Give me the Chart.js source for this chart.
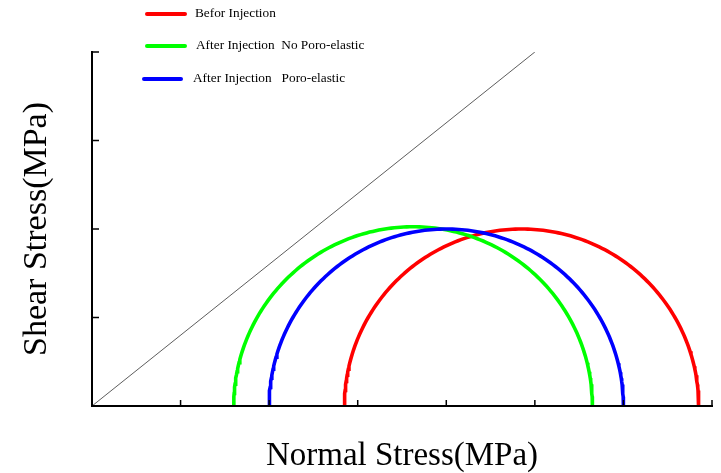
<!DOCTYPE html>
<html>
<head>
<meta charset="utf-8">
<script src="https://cdn.jsdelivr.net/npm/chart.js@4/dist/chart.umd.min.js"></script>
<style>
  html, body { margin: 0; padding: 0; background: #ffffff; }
  #wrap { width: 721px; height: 473px; position: relative; }
</style>
</head>
<body>
<div id="wrap"><canvas id="c" width="721" height="473"></canvas></div>
<script>
// ---- Data ----
const seriesNames = ['Befor Injection', 'After Injection  No Poro-elastic', 'After Injection   Poro-elastic'];
const sigma3 = [2.85, 1.60, 2.00];   // minimum principal stress (left end of each Mohr circle)
const sigma1 = [6.85, 5.65, 6.00];   // maximum principal stress (right end of each Mohr circle)
const seriesColors = ['#ff0000', '#00ff00', '#0000ff'];
const failureX = [0, 5];
const failureY = [0, 4];
const xTicks = [0, 1, 2, 3, 4, 5, 6, 7];
const yTicks = [0, 1, 2, 3, 4];
const xTitle = 'Normal Stress(MPa)';
const yTitle = 'Shear Stress(MPa)';

// Mohr semicircle from principal stresses
function mohr(s3, s1) {
  const c = (s1 + s3) / 2, r = (s1 - s3) / 2, pts = [];
  for (let a = 180; a >= 0; a -= 1) {
    const t = a * Math.PI / 180;
    pts.push({ x: c + r * Math.cos(t), y: r * Math.sin(t) });
  }
  return pts;
}

const datasets = seriesNames.map((name, i) => ({
  label: name,
  data: mohr(sigma3[i], sigma1[i]),
  borderColor: seriesColors[i],
  backgroundColor: seriesColors[i],
  borderWidth: 3.6,
  pointRadius: 0,
  showLine: true,
  tension: 0,
  order: 2 - i
}));
datasets.push({
  label: 'failure',
  data: failureX.map((x, i) => ({ x: x, y: failureY[i] })),
  borderColor: '#333333',
  borderWidth: 0.8,
  pointRadius: 0,
  showLine: true,
  order: 5
});

const axesPlugin = {
  id: 'axesPlugin',
  afterDatasetsDraw(chart) {
    const ctx = chart.ctx, xs = chart.scales.x, ys = chart.scales.y;
    const x0 = xs.getPixelForValue(xs.min), x1 = xs.getPixelForValue(xs.max);
    const y0 = ys.getPixelForValue(ys.min), y1 = ys.getPixelForValue(ys.max);
    ctx.save();
    ctx.strokeStyle = '#000';
    ctx.lineWidth = 2;
    ctx.lineCap = 'square';
    ctx.beginPath();
    ctx.moveTo(x0, y1); ctx.lineTo(x0, y0); ctx.lineTo(x1, y0);
    ctx.stroke();
    ctx.lineWidth = 1.5;
    ctx.lineCap = 'butt';
    ctx.beginPath();
    xTicks.forEach(v => { if (v === xs.min) return; const p = xs.getPixelForValue(v); ctx.moveTo(p, y0); ctx.lineTo(p, y0 - 6); });
    yTicks.forEach(v => { if (v === ys.min) return; const p = ys.getPixelForValue(v); ctx.moveTo(x0, p); ctx.lineTo(x0 + 7, p); });
    ctx.stroke();
    ctx.restore();
  }
};

const legendPlugin = {
  id: 'legendPlugin',
  afterDraw(chart) {
    const ctx = chart.ctx;
    const items = [
      { lx: 147, lw: 38, y: 14, tx: 195 },
      { lx: 147, lw: 38, y: 46, tx: 196 },
      { lx: 144, lw: 37, y: 79, tx: 193 }
    ];
    ctx.save();
    ctx.font = '13.3px "Liberation Serif", "Times New Roman", serif';
    ctx.textBaseline = 'middle';
    ctx.fillStyle = '#000';
    items.forEach((it, i) => {
      ctx.strokeStyle = seriesColors[i];
      ctx.lineWidth = 4;
      ctx.lineCap = 'round';
      ctx.beginPath();
      ctx.moveTo(it.lx, it.y); ctx.lineTo(it.lx + it.lw, it.y);
      ctx.stroke();
      ctx.fillText(seriesNames[i], it.tx, it.y);
    });
    ctx.restore();
  }
};

new Chart(document.getElementById('c'), {
  type: 'scatter',
  data: { datasets: datasets },
  options: {
    responsive: false,
    animation: false,
    events: [],
    layout: { autoPadding: false, padding: { top: 52, right: 9, left: 0, bottom: 0 } },
    plugins: { legend: { display: false }, tooltip: { enabled: false } },
    scales: {
      x: {
        type: 'linear', min: xTicks[0], max: xTicks[xTicks.length - 1],
        ticks: { display: false, stepSize: 1 },
        grid: { display: false, drawTicks: false },
        border: { display: false },
        title: { display: true, text: xTitle, color: '#000',
          font: { family: '"Liberation Serif", "Times New Roman", serif', size: 33, lineHeight: 1.0 },
          padding: { top: 34, bottom: 0 } }
      },
      y: {
        type: 'linear', min: yTicks[0], max: yTicks[yTicks.length - 1],
        ticks: { display: false, stepSize: 1 },
        grid: { display: false, drawTicks: false },
        border: { display: false },
        title: { display: true, text: yTitle, color: '#000',
          font: { family: '"Liberation Serif", "Times New Roman", serif', size: 34 },
          padding: { top: 16.6, bottom: 34.6 } }
      }
    }
  },
  plugins: [axesPlugin, legendPlugin]
});
</script>
</body>
</html>
